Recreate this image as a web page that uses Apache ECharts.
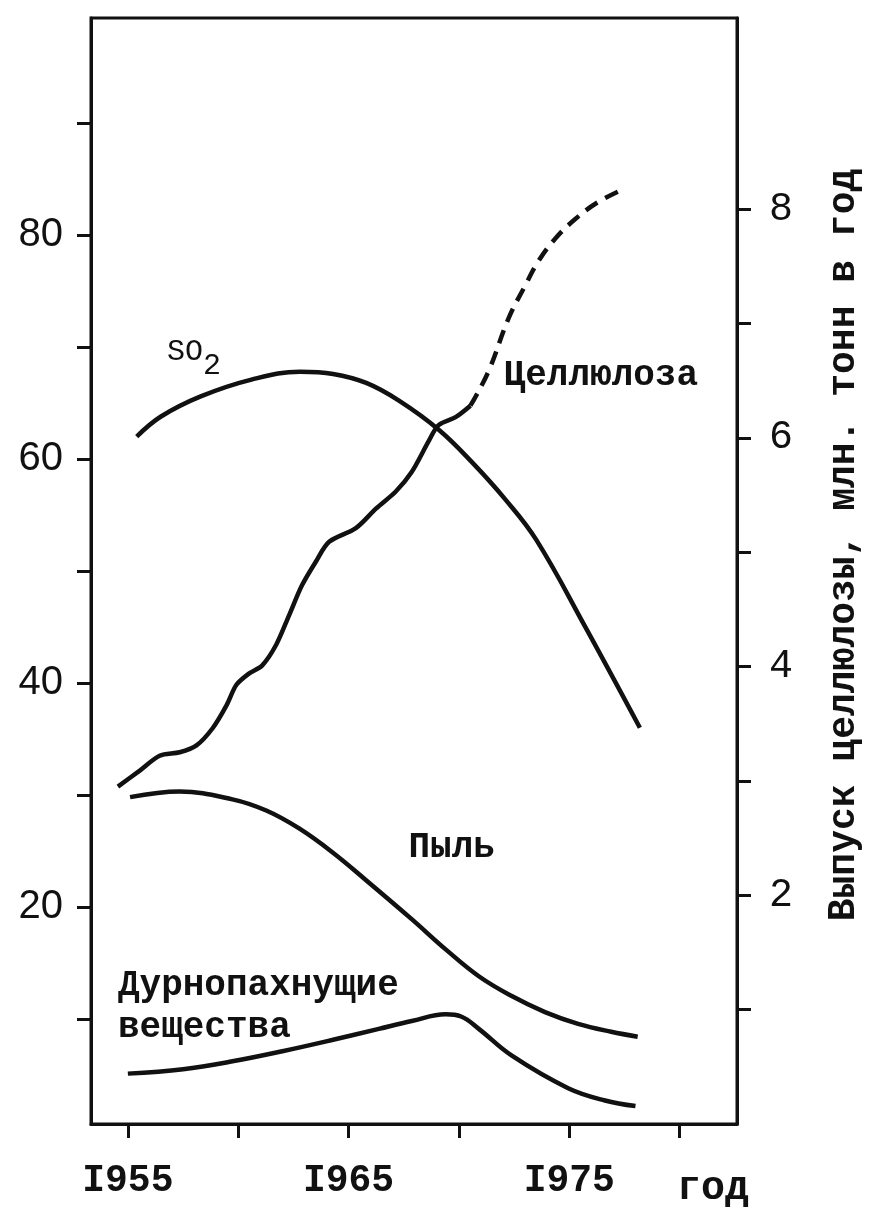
<!DOCTYPE html>
<html>
<head>
<meta charset="utf-8">
<script src="https://cdn.jsdelivr.net/npm/echarts@6/dist/echarts.min.js"></script>
<style>
html,body{margin:0;padding:0;background:#fff;}
#chart{width:871px;height:1209px;}
</style>
</head>
<body>
<div id="chart"></div>
<script>
// ---- data ----
var xTickYears = [1955, 1960, 1965, 1970, 1975, 1980];
var xLabelYears = [1955, 1965, 1975];
var xLabelTexts = ['I955', 'I965', 'I975'];
var leftTicks = [10, 20, 30, 40, 50, 60, 70, 80, 90];
var leftLabels = [20, 40, 60, 80];
var rightTicks = [1, 2, 3, 4, 5, 6, 7, 8];
var rightLabels = [2, 4, 6, 8];

var so2Years  = [1955.4, 1956.5, 1958.3, 1960.6, 1962.8, 1964.3, 1965.8, 1967.3, 1969.1, 1970.6, 1972.1, 1973.5, 1975.7, 1978.2];
var so2Values = [62.0, 63.8, 65.6, 67.1, 67.8, 67.6, 66.8, 65.2, 62.6, 59.7, 56.4, 52.8, 45.1, 36.0];

var pulpYears  = [1954.55, 1955.54, 1956.44, 1957.35, 1958.11, 1958.84, 1959.47, 1959.92, 1960.5, 1961.09, 1961.72, 1962.31, 1962.89, 1963.53, 1964.12, 1965.33, 1966.24, 1967.14, 1967.86, 1968.63, 1969.08, 1969.85, 1970.52];
var pulpValues = [2.95, 3.09, 3.22, 3.25, 3.31, 3.46, 3.66, 3.84, 3.94, 4.01, 4.19, 4.45, 4.71, 4.92, 5.09, 5.21, 5.38, 5.53, 5.70, 5.97, 6.11, 6.18, 6.28];

var pulpForecastYears  = [1970.52, 1971.34, 1972.24, 1973.0, 1973.59, 1974.36, 1975.26, 1976.3, 1977.52];
var pulpForecastValues = [6.28, 6.58, 7.04, 7.33, 7.54, 7.74, 7.91, 8.06, 8.18];

var dustYears  = [1955.1, 1957.35, 1959.74, 1961.27, 1962.76, 1964.25, 1965.78, 1967.86, 1969.4, 1970.9, 1972.37, 1973.9, 1975.4, 1976.9, 1978.1];
var dustValues = [29.8, 30.3, 29.6, 28.6, 27.0, 24.9, 22.4, 18.9, 16.2, 13.8, 12.05, 10.6, 9.55, 8.84, 8.4];

var odorYears  = [1955.0, 1957.5, 1959.74, 1962.0, 1964.25, 1966.37, 1967.86, 1969.4, 1970.1, 1970.9, 1972.4, 1974.95, 1976.62, 1978.0];
var odorValues = [5.1, 5.5, 6.2, 7.1, 8.1, 9.1, 9.8, 10.4, 10.2, 9.1, 6.7, 3.8, 2.7, 2.2];

var rightAxisTitle = 'Выпуск целлюлозы, млн. тонн в год';
var xAxisTitle = 'год';

function pairs(xs, ys) { return xs.map(function (x, i) { return [x, ys[i]]; }); }

var INK = '#111';
var MONO = '"Liberation Mono", "DejaVu Sans Mono", monospace';
var SANS = '"Liberation Sans", "DejaVu Sans", sans-serif';

function noteMark(coord, text, extra) {
  var label = Object.assign({
    show: true, position: 'inside', formatter: text,
    color: INK, fontFamily: MONO, fontWeight: 'bold', fontSize: 36
  }, extra || {});
  return {
    symbol: 'circle', symbolSize: 1, silent: true, animation: false,
    itemStyle: { color: 'rgba(0,0,0,0)' },
    data: [{ coord: coord, label: label }]
  };
}

var lineStyle = { color: INK, width: 4.5 };

var chart = echarts.init(document.getElementById('chart'), null, { renderer: 'canvas' });
chart.setOption({
  backgroundColor: '#fff',
  animation: false,
  grid: { left: 91, right: 131, top: 18, bottom: 84, show: true, borderColor: INK, borderWidth: 3, backgroundColor: 'transparent' },
  xAxis: {
    type: 'value', min: 1953.33, max: 1982.6,
    splitLine: { show: false },
    axisLine: { lineStyle: { color: INK, width: 3 } },
    axisTick: { show: true, customValues: xTickYears, length: 14, lineStyle: { color: INK, width: 3 } },
    axisLabel: {
      customValues: xLabelYears, margin: 38,
      formatter: function (v) { var i = xLabelYears.indexOf(Math.round(v)); return i >= 0 ? xLabelTexts[i] : ''; },
      color: INK, fontFamily: MONO, fontWeight: 'bold', fontSize: 38
    },
    name: xAxisTitle, nameLocation: 'end', nameGap: -60,
    nameTextStyle: { color: INK, fontFamily: MONO, fontWeight: 'bold', fontSize: 40, align: 'left', verticalAlign: 'top', padding: [45, 0, 0, 0] }
  },
  yAxis: [{
    type: 'value', min: 0.6, max: 99.4, position: 'left',
    splitLine: { show: false },
    axisLine: { show: true, lineStyle: { color: INK, width: 3 } },
    axisTick: { show: true, customValues: leftTicks, length: 14, lineStyle: { color: INK, width: 3 } },
    axisLabel: { customValues: leftLabels, margin: 28, color: INK, fontFamily: SANS, fontSize: 40 }
  }, {
    type: 'value', min: 0, max: 9.67, position: 'right',
    splitLine: { show: false },
    axisLine: { show: true, lineStyle: { color: INK, width: 3 } },
    axisTick: { show: true, customValues: rightTicks, length: 14, lineStyle: { color: INK, width: 3 } },
    axisLabel: { customValues: rightLabels, margin: 32, color: INK, fontFamily: MONO, fontSize: 40 },
    name: rightAxisTitle, nameLocation: 'middle', nameRotate: 90, nameGap: 88,
    nameTextStyle: { color: INK, fontFamily: MONO, fontWeight: 'bold', fontSize: 38, padding: [0, 0, 0, 52] }
  }],
  series: [{
    name: 'SO2', type: 'line', yAxisIndex: 0, smooth: 0.4, showSymbol: false,
    data: pairs(so2Years, so2Values), lineStyle: lineStyle,
    markPoint: noteMark([1958.0, 68.9], '{a|SO}{b|2}', {
      fontWeight: 'normal',
      rich: {
        a: { fontFamily: MONO, fontSize: 30, color: INK, lineHeight: 44, verticalAlign: 'top' },
        b: { fontFamily: MONO, fontSize: 30, color: INK, lineHeight: 44, verticalAlign: 'bottom' }
      }
    })
  }, {
    name: 'Целлюлоза', type: 'line', yAxisIndex: 1, smooth: 0.3, showSymbol: false,
    data: pairs(pulpYears, pulpValues), lineStyle: lineStyle,
    markPoint: noteMark([1976.43, 6.54], 'Целлюлоза')
  }, {
    name: 'Целлюлоза (прогноз)', type: 'line', yAxisIndex: 1, smooth: 0.4, showSymbol: false,
    data: pairs(pulpForecastYears, pulpForecastValues),
    lineStyle: { color: INK, width: 4.5, type: [14, 9] }
  }, {
    name: 'Пыль', type: 'line', yAxisIndex: 0, smooth: 0.4, showSymbol: false,
    data: pairs(dustYears, dustValues), lineStyle: lineStyle,
    markPoint: noteMark([1969.67, 25.25], 'Пыль')
  }, {
    name: 'Дурнопахнущие вещества', type: 'line', yAxisIndex: 0, smooth: 0.4, showSymbol: false,
    data: pairs(odorYears, odorValues), lineStyle: lineStyle,
    markPoint: noteMark([1954.55, 11.1], 'Дурнопахнущие\nвещества', { align: 'left', verticalAlign: 'middle', lineHeight: 42 })
  }]
});
</script>
</body>
</html>
